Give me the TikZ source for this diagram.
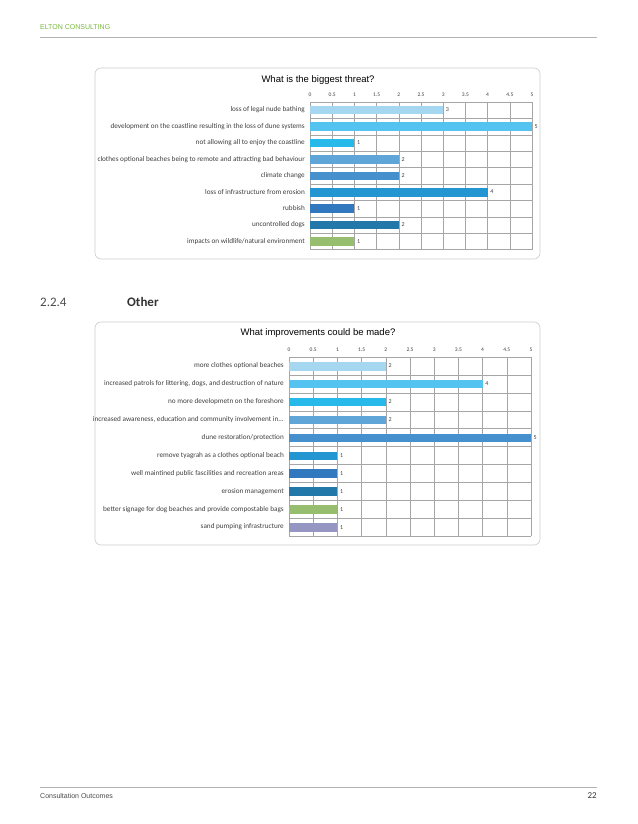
\documentclass[tikz,border=0pt]{standalone}
\usepackage{fontspec}
\setmainfont{Carlito}
\newfontfamily\arialf{Liberation Sans}
\definecolor{cA}{RGB}{165,215,240}
\definecolor{cB}{RGB}{85,195,240}
\definecolor{cC}{RGB}{40,185,235}
\definecolor{cD}{RGB}{95,165,215}
\definecolor{cE}{RGB}{70,145,205}
\definecolor{cF}{RGB}{35,150,210}
\definecolor{cG}{RGB}{50,120,190}
\definecolor{cH}{RGB}{35,120,170}
\definecolor{cI}{RGB}{150,190,110}
\definecolor{cJ}{RGB}{150,150,195}
\definecolor{hgreen}{RGB}{120,185,60}
\tikzset{
 lbl/.style={anchor=east,font=\fontsize{7.2}{8}\selectfont,text=black!75,inner sep=1pt},
 val/.style={anchor=west,font=\fontsize{6}{7}\selectfont,text=black!75,inner sep=2.5pt},
 tick/.style={font=\fontsize{5.5}{6}\selectfont,text=black!75,inner sep=0pt},
 grid/.style={draw=black!35,line width=0.3pt},
 frame/.style={draw=black!20,rounded corners=6pt,line width=0.6pt},
 ttl/.style={font=\arialf\fontsize{9.5}{11}\selectfont},
}
\begin{document}
\begin{tikzpicture}[x=1pt,y=-1pt]
\useasboundingbox[fill=white] (0,0) rectangle (637,824);
% header
\node[anchor=west,text=hgreen,font=\arialf\fontsize{7}{8}\selectfont,inner sep=0] (hdr) at (40,27) {ELTON CONSULTING};
\draw[black!30,line width=0.4pt] (40,37) -- (597,37);
% chart 1
\draw[frame] (95,68) rectangle (540,259);
\node[ttl] (t1) at (318,80) {What is the biggest threat?};
\foreach \i/\t in {0/0,1/0.5,2/1,3/1.5,4/2,5/2.5,6/3,7/3.5,8/4,9/4.5,10/5}{
  \draw[grid] (310+22.2*\i,102) -- (310+22.2*\i,250);
  \node[tick] (ax\i) at (310+22.2*\i,95) {\t};
}
\foreach \j in {0,...,9}{ \draw[grid] (310,102+16.4*\j) -- (532,102+16.4*\j); }
\foreach \j/\v/\c/\l in {
 0/3/cA/{loss of legal nude bathing},
 1/5/cB/{development on the coastline resulting in the loss of dune systems},
 2/1/cC/{not allowing all to enjoy the coastline},
 3/2/cD/{clothes optional beaches being to remote and attracting bad behaviour},
 4/2/cE/{climate change},
 5/4/cF/{loss of infrastructure from erosion},
 6/1/cG/{rubbish},
 7/2/cH/{uncontrolled dogs},
 8/1/cI/{impacts on wildlife/natural environment}}{
 \fill[\c] (310,106+16.4*\j) rectangle (310+44.4*\v,114.5+16.4*\j);
 \node[lbl] (la\j) at (306,110+16.4*\j) {\l};
 \node[val] (va\j) at (310+44.4*\v,110+16.4*\j) {\v};
}
% heading
\node[anchor=west,inner sep=0,font=\fontsize{13}{15}\selectfont,text=black!70] (h1) at (40,302) {2.2.4};
\node[anchor=west,inner sep=0,font=\bfseries\fontsize{13}{15}\selectfont,text=black!80] (h2) at (127,302) {Other};
% chart 2
\draw[frame] (95,322) rectangle (540,545);
\node[ttl] (t2) at (318,333) {What improvements  could be made?};
\foreach \i/\t in {0/0,1/0.5,2/1,3/1.5,4/2,5/2.5,6/3,7/3.5,8/4,9/4.5,10/5}{
  \draw[grid] (289+24.2*\i,357) -- (289+24.2*\i,536);
  \node[tick] (bx\i) at (289+24.2*\i,350) {\t};
}
\foreach \j in {0,...,10}{ \draw[grid] (289,357+17.9*\j) -- (531,357+17.9*\j); }
\foreach \j/\v/\c/\l in {
 0/2/cA/{more clothes optional beaches},
 1/4/cB/{increased patrols for littering, dogs, and destruction of nature},
 2/2/cC/{no more developmetn on the foreshore},
 3/2/cD/{increased awareness, education and community involvement in...},
 4/5/cE/{dune restoration/protection},
 5/1/cF/{remove tyagrah as a clothes optional beach},
 6/1/cG/{well maintined public fascilities and recreation areas},
 7/1/cH/{erosion management},
 8/1/cI/{better signage for dog beaches and provide compostable bags},
 9/1/cJ/{sand pumping infrastructure}}{
 \fill[\c] (289,362+17.9*\j) rectangle (289+48.4*\v,370.5+17.9*\j);
 \node[lbl] (lb\j) at (285,366+17.9*\j) {\l};
 \node[val] (vb\j) at (289+48.4*\v,366+17.9*\j) {\v};
}
% footer
\draw[black!30,line width=0.4pt] (40,787) -- (597,787);
\node[anchor=west,inner sep=0,font=\arialf\fontsize{7}{8}\selectfont,text=black!70] (ft) at (40,796) {Consultation Outcomes};
\node[anchor=east,inner sep=0,font=\fontsize{9}{10}\selectfont,text=black!80] (pg) at (597,796) {22};
\end{tikzpicture}
\end{document}
